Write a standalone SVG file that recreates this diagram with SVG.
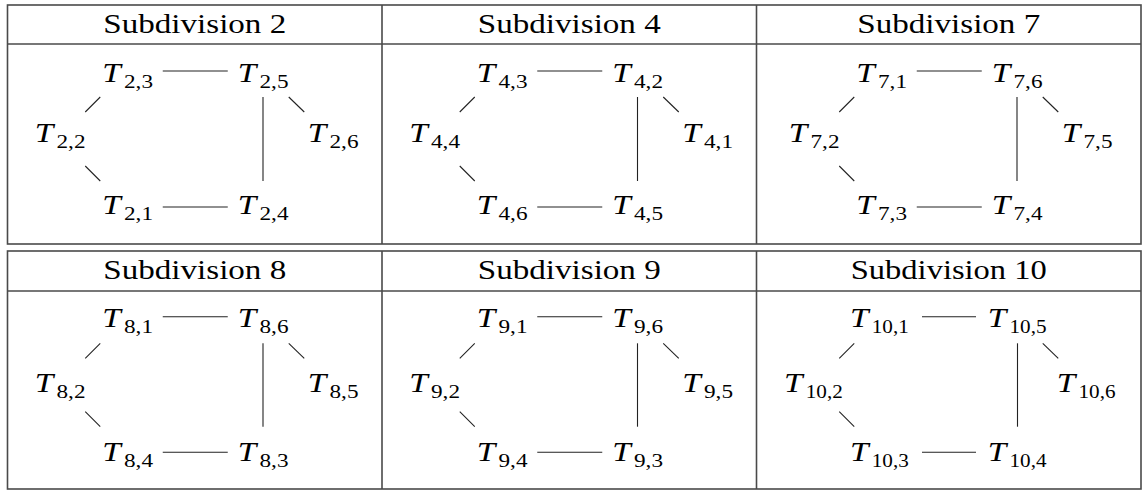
<svg xmlns="http://www.w3.org/2000/svg" width="1142" height="491" viewBox="0 0 1142 491">
<style>
.bd{fill:none;stroke:#4a4a4a;stroke-width:1.6}
.e{stroke:#222;stroke-width:1.1;fill:none}
.h{font-family:"Liberation Serif","Times New Roman",Tinos,"DejaVu Serif",serif;font-size:27px;text-anchor:middle;fill:#000}
.m{font-family:"Liberation Serif","Times New Roman",Tinos,"DejaVu Serif",serif;font-size:27.5px;font-style:italic;fill:#000}
.s{font-family:"Liberation Serif","Times New Roman",Tinos,"DejaVu Serif",serif;font-size:18px;fill:#000}
</style>
<rect width="1142" height="491" fill="#fff"/>
<g id="tables">
<rect class="bd" x="7.5" y="5" width="1133.5" height="239"/>
<line class="bd" x1="7.5" y1="44" x2="1141" y2="44"/>
<line class="bd" x1="382" y1="5" x2="382" y2="244"/>
<line class="bd" x1="756.5" y1="5" x2="756.5" y2="244"/>
<rect class="bd" x="7.5" y="251" width="1133.5" height="238"/>
<line class="bd" x1="7.5" y1="291" x2="1141" y2="291"/>
<line class="bd" x1="382" y1="251" x2="382" y2="489"/>
<line class="bd" x1="756.5" y1="251" x2="756.5" y2="489"/>
</g>
<g id="headers">
<text class="h" x="194.75" y="33" textLength="183" lengthAdjust="spacingAndGlyphs">Subdivision 2</text>
<text class="h" x="569.25" y="33" textLength="183" lengthAdjust="spacingAndGlyphs">Subdivision 4</text>
<text class="h" x="948.75" y="33" textLength="183" lengthAdjust="spacingAndGlyphs">Subdivision 7</text>
<text class="h" x="194.75" y="279" textLength="183" lengthAdjust="spacingAndGlyphs">Subdivision 8</text>
<text class="h" x="569.25" y="279" textLength="183" lengthAdjust="spacingAndGlyphs">Subdivision 9</text>
<text class="h" x="948.75" y="279" textLength="196" lengthAdjust="spacingAndGlyphs">Subdivision 10</text>
</g>
<g id="connectors">
<line class="e" x1="162.75" y1="71" x2="227.75" y2="71"/>
<line class="e" x1="162.75" y1="207" x2="227.75" y2="207"/>
<line class="e" x1="263" y1="97" x2="263" y2="181"/>
<line class="e" x1="100.25" y1="97" x2="85.25" y2="112"/>
<line class="e" x1="85.25" y1="166" x2="100.25" y2="181"/>
<line class="e" x1="288.75" y1="97" x2="304.25" y2="112"/>
<line class="e" x1="537.25" y1="71" x2="602.25" y2="71"/>
<line class="e" x1="537.25" y1="207" x2="602.25" y2="207"/>
<line class="e" x1="637.5" y1="97" x2="637.5" y2="181"/>
<line class="e" x1="474.75" y1="97" x2="459.75" y2="112"/>
<line class="e" x1="459.75" y1="166" x2="474.75" y2="181"/>
<line class="e" x1="663.25" y1="97" x2="678.75" y2="112"/>
<line class="e" x1="916.75" y1="71" x2="981.75" y2="71"/>
<line class="e" x1="916.75" y1="207" x2="981.75" y2="207"/>
<line class="e" x1="1017" y1="97" x2="1017" y2="181"/>
<line class="e" x1="854.25" y1="97" x2="839.25" y2="112"/>
<line class="e" x1="839.25" y1="166" x2="854.25" y2="181"/>
<line class="e" x1="1042.75" y1="97" x2="1058.25" y2="112"/>
<line class="e" x1="162.75" y1="316.7" x2="227.75" y2="316.7"/>
<line class="e" x1="162.75" y1="452.3" x2="227.75" y2="452.3"/>
<line class="e" x1="263" y1="343.3" x2="263" y2="426.7"/>
<line class="e" x1="100.25" y1="343.3" x2="85.25" y2="358.3"/>
<line class="e" x1="85.25" y1="411.7" x2="100.25" y2="426.7"/>
<line class="e" x1="288.75" y1="343.3" x2="304.25" y2="358.3"/>
<line class="e" x1="537.25" y1="316.7" x2="602.25" y2="316.7"/>
<line class="e" x1="537.25" y1="452.3" x2="602.25" y2="452.3"/>
<line class="e" x1="637.5" y1="343.3" x2="637.5" y2="426.7"/>
<line class="e" x1="474.75" y1="343.3" x2="459.75" y2="358.3"/>
<line class="e" x1="459.75" y1="411.7" x2="474.75" y2="426.7"/>
<line class="e" x1="663.25" y1="343.3" x2="678.75" y2="358.3"/>
<line class="e" x1="922" y1="316.7" x2="976" y2="316.7"/>
<line class="e" x1="922" y1="452.3" x2="976" y2="452.3"/>
<line class="e" x1="1017.5" y1="343.3" x2="1017.5" y2="426.7"/>
<line class="e" x1="854.25" y1="343.3" x2="839.25" y2="358.3"/>
<line class="e" x1="839.25" y1="411.7" x2="854.25" y2="426.7"/>
<line class="e" x1="1042.75" y1="343.3" x2="1058.25" y2="358.3"/>
</g>
<g id="T2_3"><text class="m" x="102.25" y="82" textLength="18.5" lengthAdjust="spacingAndGlyphs">T</text><text class="s" x="124" y="88" textLength="29" lengthAdjust="spacingAndGlyphs">2,3</text></g>
<g id="T2_5"><text class="m" x="237.75" y="82" textLength="18.5" lengthAdjust="spacingAndGlyphs">T</text><text class="s" x="259.5" y="88" textLength="29" lengthAdjust="spacingAndGlyphs">2,5</text></g>
<g id="T2_2"><text class="m" x="34.75" y="142" textLength="18.5" lengthAdjust="spacingAndGlyphs">T</text><text class="s" x="56.5" y="148" textLength="29" lengthAdjust="spacingAndGlyphs">2,2</text></g>
<g id="T2_6"><text class="m" x="307.75" y="142" textLength="18.5" lengthAdjust="spacingAndGlyphs">T</text><text class="s" x="329.5" y="148" textLength="29" lengthAdjust="spacingAndGlyphs">2,6</text></g>
<g id="T2_1"><text class="m" x="102.25" y="214" textLength="18.5" lengthAdjust="spacingAndGlyphs">T</text><text class="s" x="124" y="220" textLength="29" lengthAdjust="spacingAndGlyphs">2,1</text></g>
<g id="T2_4"><text class="m" x="237.75" y="214" textLength="18.5" lengthAdjust="spacingAndGlyphs">T</text><text class="s" x="259.5" y="220" textLength="29" lengthAdjust="spacingAndGlyphs">2,4</text></g>
<g id="T4_3"><text class="m" x="476.75" y="82" textLength="18.5" lengthAdjust="spacingAndGlyphs">T</text><text class="s" x="498.5" y="88" textLength="29" lengthAdjust="spacingAndGlyphs">4,3</text></g>
<g id="T4_2"><text class="m" x="612.25" y="82" textLength="18.5" lengthAdjust="spacingAndGlyphs">T</text><text class="s" x="634" y="88" textLength="29" lengthAdjust="spacingAndGlyphs">4,2</text></g>
<g id="T4_4"><text class="m" x="409.25" y="142" textLength="18.5" lengthAdjust="spacingAndGlyphs">T</text><text class="s" x="431" y="148" textLength="29" lengthAdjust="spacingAndGlyphs">4,4</text></g>
<g id="T4_1"><text class="m" x="682.25" y="142" textLength="18.5" lengthAdjust="spacingAndGlyphs">T</text><text class="s" x="704" y="148" textLength="29" lengthAdjust="spacingAndGlyphs">4,1</text></g>
<g id="T4_6"><text class="m" x="476.75" y="214" textLength="18.5" lengthAdjust="spacingAndGlyphs">T</text><text class="s" x="498.5" y="220" textLength="29" lengthAdjust="spacingAndGlyphs">4,6</text></g>
<g id="T4_5"><text class="m" x="612.25" y="214" textLength="18.5" lengthAdjust="spacingAndGlyphs">T</text><text class="s" x="634" y="220" textLength="29" lengthAdjust="spacingAndGlyphs">4,5</text></g>
<g id="T7_1"><text class="m" x="856.25" y="82" textLength="18.5" lengthAdjust="spacingAndGlyphs">T</text><text class="s" x="878" y="88" textLength="29" lengthAdjust="spacingAndGlyphs">7,1</text></g>
<g id="T7_6"><text class="m" x="991.75" y="82" textLength="18.5" lengthAdjust="spacingAndGlyphs">T</text><text class="s" x="1013.5" y="88" textLength="29" lengthAdjust="spacingAndGlyphs">7,6</text></g>
<g id="T7_2"><text class="m" x="788.75" y="142" textLength="18.5" lengthAdjust="spacingAndGlyphs">T</text><text class="s" x="810.5" y="148" textLength="29" lengthAdjust="spacingAndGlyphs">7,2</text></g>
<g id="T7_5"><text class="m" x="1061.75" y="142" textLength="18.5" lengthAdjust="spacingAndGlyphs">T</text><text class="s" x="1083.5" y="148" textLength="29" lengthAdjust="spacingAndGlyphs">7,5</text></g>
<g id="T7_3"><text class="m" x="856.25" y="214" textLength="18.5" lengthAdjust="spacingAndGlyphs">T</text><text class="s" x="878" y="220" textLength="29" lengthAdjust="spacingAndGlyphs">7,3</text></g>
<g id="T7_4"><text class="m" x="991.75" y="214" textLength="18.5" lengthAdjust="spacingAndGlyphs">T</text><text class="s" x="1013.5" y="220" textLength="29" lengthAdjust="spacingAndGlyphs">7,4</text></g>
<g id="T8_1"><text class="m" x="102.25" y="327" textLength="18.5" lengthAdjust="spacingAndGlyphs">T</text><text class="s" x="124" y="333" textLength="29" lengthAdjust="spacingAndGlyphs">8,1</text></g>
<g id="T8_6"><text class="m" x="237.75" y="327" textLength="18.5" lengthAdjust="spacingAndGlyphs">T</text><text class="s" x="259.5" y="333" textLength="29" lengthAdjust="spacingAndGlyphs">8,6</text></g>
<g id="T8_2"><text class="m" x="34.75" y="391.5" textLength="18.5" lengthAdjust="spacingAndGlyphs">T</text><text class="s" x="56.5" y="397.5" textLength="29" lengthAdjust="spacingAndGlyphs">8,2</text></g>
<g id="T8_5"><text class="m" x="307.75" y="391.5" textLength="18.5" lengthAdjust="spacingAndGlyphs">T</text><text class="s" x="329.5" y="397.5" textLength="29" lengthAdjust="spacingAndGlyphs">8,5</text></g>
<g id="T8_4"><text class="m" x="102.25" y="460.5" textLength="18.5" lengthAdjust="spacingAndGlyphs">T</text><text class="s" x="124" y="466.5" textLength="29" lengthAdjust="spacingAndGlyphs">8,4</text></g>
<g id="T8_3"><text class="m" x="237.75" y="460.5" textLength="18.5" lengthAdjust="spacingAndGlyphs">T</text><text class="s" x="259.5" y="466.5" textLength="29" lengthAdjust="spacingAndGlyphs">8,3</text></g>
<g id="T9_1"><text class="m" x="476.75" y="327" textLength="18.5" lengthAdjust="spacingAndGlyphs">T</text><text class="s" x="498.5" y="333" textLength="29" lengthAdjust="spacingAndGlyphs">9,1</text></g>
<g id="T9_6"><text class="m" x="612.25" y="327" textLength="18.5" lengthAdjust="spacingAndGlyphs">T</text><text class="s" x="634" y="333" textLength="29" lengthAdjust="spacingAndGlyphs">9,6</text></g>
<g id="T9_2"><text class="m" x="409.25" y="391.5" textLength="18.5" lengthAdjust="spacingAndGlyphs">T</text><text class="s" x="431" y="397.5" textLength="29" lengthAdjust="spacingAndGlyphs">9,2</text></g>
<g id="T9_5"><text class="m" x="682.25" y="391.5" textLength="18.5" lengthAdjust="spacingAndGlyphs">T</text><text class="s" x="704" y="397.5" textLength="29" lengthAdjust="spacingAndGlyphs">9,5</text></g>
<g id="T9_4"><text class="m" x="476.75" y="460.5" textLength="18.5" lengthAdjust="spacingAndGlyphs">T</text><text class="s" x="498.5" y="466.5" textLength="29" lengthAdjust="spacingAndGlyphs">9,4</text></g>
<g id="T9_3"><text class="m" x="612.25" y="460.5" textLength="18.5" lengthAdjust="spacingAndGlyphs">T</text><text class="s" x="634" y="466.5" textLength="29" lengthAdjust="spacingAndGlyphs">9,3</text></g>
<g id="T10_1"><text class="m" x="850" y="327" textLength="18.5" lengthAdjust="spacingAndGlyphs">T</text><text class="s" x="871.75" y="333" textLength="37" lengthAdjust="spacingAndGlyphs">10,1</text></g>
<g id="T10_5"><text class="m" x="987.75" y="327" textLength="18.5" lengthAdjust="spacingAndGlyphs">T</text><text class="s" x="1009.5" y="333" textLength="37" lengthAdjust="spacingAndGlyphs">10,5</text></g>
<g id="T10_2"><text class="m" x="784" y="391.5" textLength="18.5" lengthAdjust="spacingAndGlyphs">T</text><text class="s" x="805.75" y="397.5" textLength="37" lengthAdjust="spacingAndGlyphs">10,2</text></g>
<g id="T10_6"><text class="m" x="1056.75" y="391.5" textLength="18.5" lengthAdjust="spacingAndGlyphs">T</text><text class="s" x="1078.5" y="397.5" textLength="37" lengthAdjust="spacingAndGlyphs">10,6</text></g>
<g id="T10_3"><text class="m" x="850" y="460.5" textLength="18.5" lengthAdjust="spacingAndGlyphs">T</text><text class="s" x="871.75" y="466.5" textLength="37" lengthAdjust="spacingAndGlyphs">10,3</text></g>
<g id="T10_4"><text class="m" x="987.75" y="460.5" textLength="18.5" lengthAdjust="spacingAndGlyphs">T</text><text class="s" x="1009.5" y="466.5" textLength="37" lengthAdjust="spacingAndGlyphs">10,4</text></g>
</svg>
